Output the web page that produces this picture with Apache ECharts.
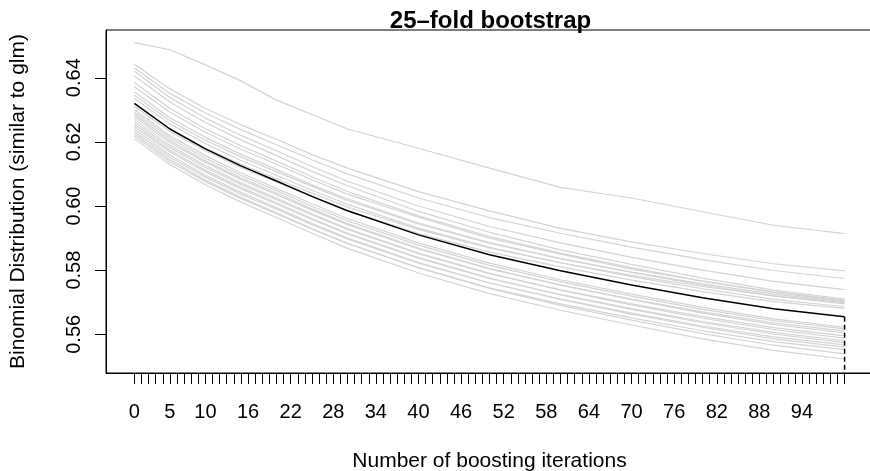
<!DOCTYPE html>
<html>
<head>
<meta charset="utf-8">
<script src="https://cdn.jsdelivr.net/npm/echarts@6/dist/echarts.min.js"></script>
<style>
  html, body { margin: 0; padding: 0; background: #ffffff; }
  #chart { width: 870px; height: 471px; }
</style>
</head>
<body>
<div id="chart"></div>
<script>
// Boosting iterations at which the out-of-sample risk was recorded
const iterations = [0, 5, 10, 15, 20, 25, 30, 40, 50, 60, 70, 80, 90, 100];

// Empirical risk per bootstrap fold (25 folds)
const fold01 = [0.6509, 0.6487, 0.6440, 0.6390, 0.6330, 0.6285, 0.6240, 0.6180, 0.6118, 0.6058, 0.6025, 0.5982, 0.5940, 0.5914];
const fold02 = [0.6442, 0.6365, 0.6304, 0.6253, 0.6208, 0.6160, 0.6118, 0.6045, 0.5985, 0.5930, 0.5888, 0.5852, 0.5820, 0.5798];
const fold03 = [0.6430, 0.6351, 0.6290, 0.6238, 0.6191, 0.6144, 0.6100, 0.6025, 0.5964, 0.5915, 0.5872, 0.5833, 0.5799, 0.5774];
const fold04 = [0.6420, 0.6338, 0.6274, 0.6220, 0.6172, 0.6123, 0.6077, 0.6000, 0.5936, 0.5885, 0.5840, 0.5800, 0.5765, 0.5739];
const fold05 = [0.6405, 0.6324, 0.6260, 0.6206, 0.6157, 0.6108, 0.6063, 0.5983, 0.5918, 0.5863, 0.5818, 0.5775, 0.5738, 0.5710];
const fold06 = [0.6385, 0.6304, 0.6241, 0.6188, 0.6140, 0.6091, 0.6045, 0.5969, 0.5905, 0.5853, 0.5808, 0.5766, 0.5731, 0.5704];
const fold07 = [0.6372, 0.6292, 0.6230, 0.6177, 0.6130, 0.6082, 0.6037, 0.5965, 0.5900, 0.5850, 0.5803, 0.5766, 0.5732, 0.5707];
const fold08 = [0.6355, 0.6275, 0.6214, 0.6161, 0.6114, 0.6066, 0.6022, 0.5947, 0.5886, 0.5836, 0.5793, 0.5753, 0.5720, 0.5695];
const fold09 = [0.6345, 0.6266, 0.6205, 0.6153, 0.6107, 0.6061, 0.6017, 0.5944, 0.5884, 0.5836, 0.5794, 0.5757, 0.5725, 0.5702];
const fold10 = [0.6335, 0.6256, 0.6195, 0.6142, 0.6096, 0.6049, 0.6005, 0.5931, 0.5871, 0.5823, 0.5780, 0.5742, 0.5709, 0.5686];
const fold11 = [0.6317, 0.6240, 0.6180, 0.6130, 0.6085, 0.6040, 0.5997, 0.5927, 0.5869, 0.5823, 0.5784, 0.5749, 0.5720, 0.5699];
const fold12 = [0.6310, 0.6232, 0.6172, 0.6120, 0.6075, 0.6029, 0.5986, 0.5914, 0.5856, 0.5810, 0.5769, 0.5733, 0.5702, 0.5681];
const fold13 = [0.6300, 0.6219, 0.6157, 0.6103, 0.6055, 0.6007, 0.5961, 0.5885, 0.5822, 0.5770, 0.5725, 0.5684, 0.5648, 0.5622];
const fold14 = [0.6292, 0.6212, 0.6149, 0.6096, 0.6048, 0.5999, 0.5954, 0.5878, 0.5815, 0.5764, 0.5719, 0.5678, 0.5643, 0.5617];
const fold15 = [0.6285, 0.6204, 0.6141, 0.6088, 0.6040, 0.5991, 0.5945, 0.5869, 0.5805, 0.5753, 0.5708, 0.5666, 0.5631, 0.5604];
const fold16 = [0.6278, 0.6198, 0.6136, 0.6083, 0.6035, 0.5987, 0.5942, 0.5866, 0.5804, 0.5754, 0.5710, 0.5670, 0.5636, 0.5610];
const fold17 = [0.6270, 0.6189, 0.6126, 0.6072, 0.6025, 0.5976, 0.5930, 0.5853, 0.5790, 0.5738, 0.5692, 0.5650, 0.5615, 0.5588];
const fold18 = [0.6262, 0.6182, 0.6120, 0.6067, 0.6020, 0.5972, 0.5927, 0.5851, 0.5789, 0.5739, 0.5695, 0.5655, 0.5621, 0.5595];
const fold19 = [0.6255, 0.6174, 0.6111, 0.6058, 0.6010, 0.5961, 0.5915, 0.5839, 0.5775, 0.5723, 0.5678, 0.5636, 0.5601, 0.5574];
const fold20 = [0.6248, 0.6168, 0.6106, 0.6053, 0.6006, 0.5958, 0.5913, 0.5837, 0.5774, 0.5724, 0.5680, 0.5640, 0.5606, 0.5580];
const fold21 = [0.6240, 0.6159, 0.6096, 0.6043, 0.5995, 0.5946, 0.5900, 0.5824, 0.5760, 0.5709, 0.5663, 0.5622, 0.5586, 0.5560];
const fold22 = [0.6232, 0.6152, 0.6090, 0.6037, 0.5990, 0.5942, 0.5897, 0.5822, 0.5760, 0.5710, 0.5666, 0.5626, 0.5592, 0.5567];
const fold23 = [0.6225, 0.6144, 0.6081, 0.6027, 0.5979, 0.5930, 0.5884, 0.5807, 0.5743, 0.5690, 0.5644, 0.5602, 0.5566, 0.5539];
const fold24 = [0.6218, 0.6138, 0.6076, 0.6023, 0.5976, 0.5928, 0.5883, 0.5808, 0.5745, 0.5695, 0.5651, 0.5611, 0.5577, 0.5552];
const fold25 = [0.6210, 0.6129, 0.6066, 0.6012, 0.5964, 0.5915, 0.5868, 0.5791, 0.5727, 0.5675, 0.5629, 0.5586, 0.5550, 0.5523];

// Average risk across folds
const meanRisk = [0.6320, 0.6240, 0.6178, 0.6125, 0.6078, 0.6030, 0.5985, 0.5910, 0.5848, 0.5798, 0.5754, 0.5714, 0.5680, 0.5655];

// Optimal stopping iteration (marked with a dashed drop line)
const mstop = 100;

// Axis ticks and labels
const xTickLabels = [0, 5, 10, 16, 22, 28, 34, 40, 46, 52, 58, 64, 70, 76, 82, 88, 94];
const yTickValues = [0.56, 0.58, 0.60, 0.62, 0.64];
const xTickPositions = Array.from({ length: 101 }, (_, k) => k);

const folds = [fold01, fold02, fold03, fold04, fold05, fold06, fold07, fold08, fold09, fold10,
               fold11, fold12, fold13, fold14, fold15, fold16, fold17, fold18, fold19, fold20,
               fold21, fold22, fold23, fold24, fold25];

const X_MIN = -4;
const X_MAX = 104;
const Y_MIN = 0.54794;
const Y_MAX = 0.65486;
const TICK_LEN = 11;
const FONT = '"Liberation Sans", Arial, Helvetica, sans-serif';

const pairs = (vals) => iterations.map((it, k) => [it, vals[k]]);

const series = folds.map((vals, k) => ({
  name: 'fold ' + (k + 1),
  type: 'line',
  data: pairs(vals),
  symbol: 'none',
  silent: true,
  lineStyle: { color: '#d3d3d3', width: 1.2 },
  z: 2
}));

series.push({
  name: 'mean',
  type: 'line',
  data: pairs(meanRisk),
  symbol: 'none',
  silent: true,
  lineStyle: { color: '#000000', width: 1.5 },
  z: 3
});

series.push({
  name: 'mstop',
  type: 'line',
  data: [[mstop, meanRisk[iterations.indexOf(mstop)]], [mstop, Y_MIN]],
  symbol: 'none',
  silent: true,
  lineStyle: { color: '#000000', width: 1.5, type: [5, 3] },
  z: 3
});

// Outward tick marks on the left axis, positioned through the y scale
series.push({
  name: 'yTicks',
  type: 'custom',
  silent: true,
  clip: false,
  data: yTickValues.map((v) => [X_MIN, v]),
  renderItem: function (params, api) {
    const p = api.coord([api.value(0), api.value(1)]);
    const py = Math.round(p[1]) + 0.5;
    return {
      type: 'line',
      shape: { x1: p[0] - TICK_LEN, y1: py, x2: p[0], y2: py },
      style: { stroke: '#000000', lineWidth: 1, fill: null }
    };
  },
  z: 4
});

const chart = echarts.init(document.getElementById('chart'), null, { renderer: 'canvas' });

chart.setOption({
  animation: false,
  backgroundColor: '#ffffff',
  title: {
    text: '25–fold bootstrap',
    left: 485.5,
    top: 4,
    textAlign: 'center',
    textStyle: { fontFamily: FONT, fontSize: 24, fontWeight: 'bold', color: '#000000' }
  },
  grid: {
    left: 106, top: 30, width: 767, height: 343,
    outerBoundsMode: 'none',
    containLabel: false,
    show: true, borderColor: '#000000', borderWidth: 1, backgroundColor: 'transparent'
  },
  xAxis: {
    type: 'value',
    min: X_MIN, max: X_MAX,
    axisLine: { show: true, onZero: false, lineStyle: { color: '#000000', width: 1 } },
    splitLine: { show: false },
    axisTick: { show: true, length: TICK_LEN, lineStyle: { color: '#000000', width: 1 }, customValues: xTickPositions },
    axisLabel: {
      customValues: xTickLabels,
      margin: 29, fontSize: 20, color: '#000000', fontFamily: FONT,
      formatter: (v) => String(v)
    },
    name: 'Number of boosting iterations',
    nameLocation: 'middle',
    nameGap: 78,
    nameTextStyle: { fontFamily: FONT, fontSize: 21, color: '#000000' }
  },
  yAxis: {
    type: 'value',
    min: Y_MIN, max: Y_MAX,
    axisLine: { show: true, onZero: false, lineStyle: { color: '#000000', width: 1 } },
    splitLine: { show: false },
    axisTick: { show: false },
    axisLabel: {
      customValues: yTickValues,
      rotate: 90,
      margin: 22, fontSize: 20, color: '#000000', fontFamily: FONT,
      formatter: (v) => v.toFixed(2)
    },
    name: 'Binomial Distribution (similar to glm)',
    nameLocation: 'middle',
    nameGap: 77,
    nameRotate: 90,
    nameTextStyle: { fontFamily: FONT, fontSize: 21, color: '#000000' }
  },
  series: series
});
</script>
</body>
</html>
